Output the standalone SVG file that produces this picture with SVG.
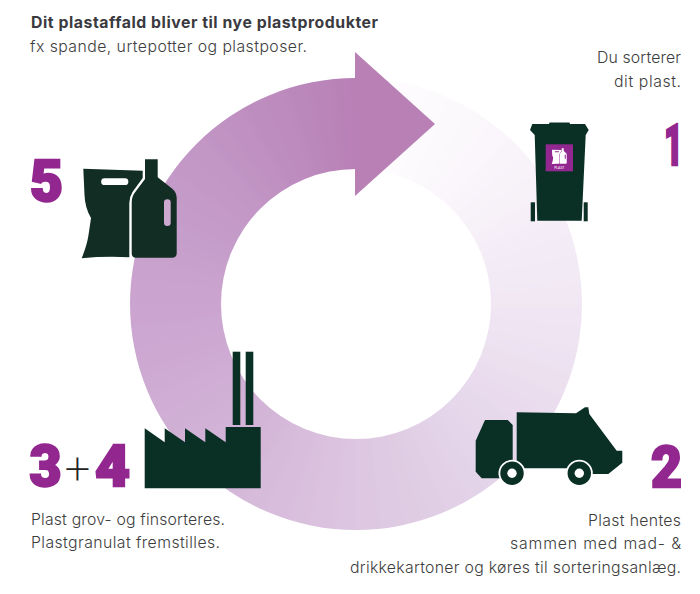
<svg xmlns="http://www.w3.org/2000/svg" width="700" height="594" viewBox="0 0 700 594">
<style>
.t{font-family:"Inter","Lato",sans-serif;font-size:15.8px;font-weight:300;fill:#3d3d3d}
.b{font-weight:700;fill:#3a3a40}
.n{font-family:"Roboto","Liberation Sans",sans-serif;font-weight:900;font-size:58px;fill:#92278f;stroke:#92278f;stroke-width:2.4}
.d{fill:#0a3026}
.p{fill:#122e24}
.s{fill:none;stroke-width:120;stroke-dasharray:6.5 353.5;transform:rotate(-90deg);transform-origin:356px 304px}
</style>
<defs>
<clipPath id="band"><path clip-rule="evenodd" d="M130,304a226,226 0 1 0 452,0a226,226 0 1 0 -452,0ZM221,304a135,135 0 1 0 270,0a135,135 0 1 0 -270,0Z"/></clipPath>
<filter id="soft" filterUnits="userSpaceOnUse" x="60" y="10" width="600" height="600"><feGaussianBlur stdDeviation="3.5"/></filter>
<path id="bag" fill-rule="evenodd" d="M83.3,168.7L142.7,170.7V178L132.5,192Q129.3,197 129.3,203V257.3Q105,256 81.7,258.3Q87,245 88.5,235Q90,225 91,218Q85,208 84.5,195ZM104.5,178.3A3.3,3.3 0 0 0 104.5,185H125A3.3,3.3 0 0 0 125,178.3Z"/>
<path id="bottle" d="M145,159.3H157.7V177.3L172,188.5Q176.7,192.5 176.7,198V253.3Q176.7,257.7 172,257.7H136Q131.7,257.7 131.7,253.3V203Q131.7,197 134.5,193L145,179Z"/>
<rect id="grip" x="164" y="199.3" width="6.7" height="26.7" rx="3.3"/>
</defs>
<rect width="700" height="594" fill="#fff"/>
<g id="ring" clip-path="url(#band)"><g filter="url(#soft)">
<circle class="s" cx="356" cy="304" r="180.5" pathLength="360" stroke="rgb(254,253,254)"/>
<circle class="s" cx="356" cy="304" r="180.5" pathLength="360" stroke="rgb(253,252,254)" stroke-dashoffset="-6"/>
<circle class="s" cx="356" cy="304" r="180.5" pathLength="360" stroke="rgb(253,251,253)" stroke-dashoffset="-12"/>
<circle class="s" cx="356" cy="304" r="180.5" pathLength="360" stroke="rgb(252,250,253)" stroke-dashoffset="-18"/>
<circle class="s" cx="356" cy="304" r="180.5" pathLength="360" stroke="rgb(252,249,252)" stroke-dashoffset="-24"/>
<circle class="s" cx="356" cy="304" r="180.5" pathLength="360" stroke="rgb(251,248,252)" stroke-dashoffset="-30"/>
<circle class="s" cx="356" cy="304" r="180.5" pathLength="360" stroke="rgb(250,246,251)" stroke-dashoffset="-36"/>
<circle class="s" cx="356" cy="304" r="180.5" pathLength="360" stroke="rgb(249,244,250)" stroke-dashoffset="-42"/>
<circle class="s" cx="356" cy="304" r="180.5" pathLength="360" stroke="rgb(248,243,249)" stroke-dashoffset="-48"/>
<circle class="s" cx="356" cy="304" r="180.5" pathLength="360" stroke="rgb(247,241,248)" stroke-dashoffset="-54"/>
<circle class="s" cx="356" cy="304" r="180.5" pathLength="360" stroke="rgb(246,239,248)" stroke-dashoffset="-60"/>
<circle class="s" cx="356" cy="304" r="180.5" pathLength="360" stroke="rgb(244,237,247)" stroke-dashoffset="-66"/>
<circle class="s" cx="356" cy="304" r="180.5" pathLength="360" stroke="rgb(243,235,246)" stroke-dashoffset="-72"/>
<circle class="s" cx="356" cy="304" r="180.5" pathLength="360" stroke="rgb(242,234,245)" stroke-dashoffset="-78"/>
<circle class="s" cx="356" cy="304" r="180.5" pathLength="360" stroke="rgb(241,232,244)" stroke-dashoffset="-84"/>
<circle class="s" cx="356" cy="304" r="180.5" pathLength="360" stroke="rgb(240,230,243)" stroke-dashoffset="-90"/>
<circle class="s" cx="356" cy="304" r="180.5" pathLength="360" stroke="rgb(239,228,242)" stroke-dashoffset="-96"/>
<circle class="s" cx="356" cy="304" r="180.5" pathLength="360" stroke="rgb(237,226,241)" stroke-dashoffset="-102"/>
<circle class="s" cx="356" cy="304" r="180.5" pathLength="360" stroke="rgb(236,224,239)" stroke-dashoffset="-108"/>
<circle class="s" cx="356" cy="304" r="180.5" pathLength="360" stroke="rgb(234,221,238)" stroke-dashoffset="-114"/>
<circle class="s" cx="356" cy="304" r="180.5" pathLength="360" stroke="rgb(233,219,237)" stroke-dashoffset="-120"/>
<circle class="s" cx="356" cy="304" r="180.5" pathLength="360" stroke="rgb(231,217,236)" stroke-dashoffset="-126"/>
<circle class="s" cx="356" cy="304" r="180.5" pathLength="360" stroke="rgb(230,215,235)" stroke-dashoffset="-132"/>
<circle class="s" cx="356" cy="304" r="180.5" pathLength="360" stroke="rgb(228,213,234)" stroke-dashoffset="-138"/>
<circle class="s" cx="356" cy="304" r="180.5" pathLength="360" stroke="rgb(227,211,232)" stroke-dashoffset="-144"/>
<circle class="s" cx="356" cy="304" r="180.5" pathLength="360" stroke="rgb(226,209,230)" stroke-dashoffset="-150"/>
<circle class="s" cx="356" cy="304" r="180.5" pathLength="360" stroke="rgb(224,206,229)" stroke-dashoffset="-156"/>
<circle class="s" cx="356" cy="304" r="180.5" pathLength="360" stroke="rgb(223,204,227)" stroke-dashoffset="-162"/>
<circle class="s" cx="356" cy="304" r="180.5" pathLength="360" stroke="rgb(222,202,226)" stroke-dashoffset="-168"/>
<circle class="s" cx="356" cy="304" r="180.5" pathLength="360" stroke="rgb(221,199,225)" stroke-dashoffset="-174"/>
<circle class="s" cx="356" cy="304" r="180.5" pathLength="360" stroke="rgb(220,197,224)" stroke-dashoffset="-180"/>
<circle class="s" cx="356" cy="304" r="180.5" pathLength="360" stroke="rgb(219,194,222)" stroke-dashoffset="-186"/>
<circle class="s" cx="356" cy="304" r="180.5" pathLength="360" stroke="rgb(217,192,221)" stroke-dashoffset="-192"/>
<circle class="s" cx="356" cy="304" r="180.5" pathLength="360" stroke="rgb(216,189,220)" stroke-dashoffset="-198"/>
<circle class="s" cx="356" cy="304" r="180.5" pathLength="360" stroke="rgb(215,187,218)" stroke-dashoffset="-204"/>
<circle class="s" cx="356" cy="304" r="180.5" pathLength="360" stroke="rgb(213,184,217)" stroke-dashoffset="-210"/>
<circle class="s" cx="356" cy="304" r="180.5" pathLength="360" stroke="rgb(211,181,216)" stroke-dashoffset="-216"/>
<circle class="s" cx="356" cy="304" r="180.5" pathLength="360" stroke="rgb(211,179,215)" stroke-dashoffset="-222"/>
<circle class="s" cx="356" cy="304" r="180.5" pathLength="360" stroke="rgb(209,177,214)" stroke-dashoffset="-228"/>
<circle class="s" cx="356" cy="304" r="180.5" pathLength="360" stroke="rgb(208,175,213)" stroke-dashoffset="-234"/>
<circle class="s" cx="356" cy="304" r="180.5" pathLength="360" stroke="rgb(207,173,212)" stroke-dashoffset="-240"/>
<circle class="s" cx="356" cy="304" r="180.5" pathLength="360" stroke="rgb(206,171,211)" stroke-dashoffset="-246"/>
<circle class="s" cx="356" cy="304" r="180.5" pathLength="360" stroke="rgb(205,169,210)" stroke-dashoffset="-252"/>
<circle class="s" cx="356" cy="304" r="180.5" pathLength="360" stroke="rgb(204,167,209)" stroke-dashoffset="-258"/>
<circle class="s" cx="356" cy="304" r="180.5" pathLength="360" stroke="rgb(203,165,208)" stroke-dashoffset="-264"/>
<circle class="s" cx="356" cy="304" r="180.5" pathLength="360" stroke="rgb(202,164,207)" stroke-dashoffset="-270"/>
<circle class="s" cx="356" cy="304" r="180.5" pathLength="360" stroke="rgb(201,162,205)" stroke-dashoffset="-276"/>
<circle class="s" cx="356" cy="304" r="180.5" pathLength="360" stroke="rgb(200,160,204)" stroke-dashoffset="-282"/>
<circle class="s" cx="356" cy="304" r="180.5" pathLength="360" stroke="rgb(198,158,203)" stroke-dashoffset="-288"/>
<circle class="s" cx="356" cy="304" r="180.5" pathLength="360" stroke="rgb(197,156,201)" stroke-dashoffset="-294"/>
<circle class="s" cx="356" cy="304" r="180.5" pathLength="360" stroke="rgb(196,154,200)" stroke-dashoffset="-300"/>
<circle class="s" cx="356" cy="304" r="180.5" pathLength="360" stroke="rgb(195,152,199)" stroke-dashoffset="-306"/>
<circle class="s" cx="356" cy="304" r="180.5" pathLength="360" stroke="rgb(194,150,197)" stroke-dashoffset="-312"/>
<circle class="s" cx="356" cy="304" r="180.5" pathLength="360" stroke="rgb(192,147,195)" stroke-dashoffset="-318"/>
<circle class="s" cx="356" cy="304" r="180.5" pathLength="360" stroke="rgb(191,144,193)" stroke-dashoffset="-324"/>
<circle class="s" cx="356" cy="304" r="180.5" pathLength="360" stroke="rgb(190,141,191)" stroke-dashoffset="-330"/>
<circle class="s" cx="356" cy="304" r="180.5" pathLength="360" stroke="rgb(189,139,189)" stroke-dashoffset="-336"/>
<circle class="s" cx="356" cy="304" r="180.5" pathLength="360" stroke="rgb(187,136,187)" stroke-dashoffset="-342"/>
<circle class="s" cx="356" cy="304" r="180.5" pathLength="360" stroke="rgb(186,133,185)" stroke-dashoffset="-348"/>
<circle class="s" cx="356" cy="304" r="180.5" pathLength="360" stroke="rgb(185,130,183)" stroke-dashoffset="-354"/>
<circle class="s" cx="356" cy="304" r="180.5" pathLength="360" stroke="rgb(184,128,181)" stroke-dashoffset="-358" style="stroke-dasharray:9 351"/>
</g></g>
<polygon id="arrowhead" points="355,52 435,124 355,196" fill="#b880b5"/>
<g id="bin">
<path class="d" d="M549.5,122.5H569.5L570,124H585L588.7,130L585.7,135L581.7,220.7H537.3L534.7,135L530,130L532.3,124H549Z"/>
<rect class="d" x="530.7" y="202.3" width="4.3" height="19"/>
<rect class="d" x="583.7" y="202.3" width="4" height="19"/>
<rect x="545.7" y="144.3" width="27.3" height="27" fill="#92278f"/>
<g transform="translate(538.8 123.1) scale(.158)"><use href="#bag" fill="#fff"/><use href="#bottle" fill="#fff"/><use href="#grip" fill="#92278f"/></g>
<text x="559.3" y="169" text-anchor="middle" font-family="Lato,sans-serif" font-size="3.5" fill="#fff">PLAST</text>
</g>
<g id="truck">
<path class="d" d="M475.7,440.7L485,420H507.7L512.7,425V465L500,478.3H481.7L475.7,471.7Z"/>
<path class="d" d="M516.7,412.3L576,413.3L585,407.3H588.3L589.3,414L616.7,450.7H622.3V462.7L608.3,474H590V468.3H516.7Z"/>
<circle cx="512" cy="473.3" r="13.5" fill="#fff"/><circle class="d" cx="512" cy="473.3" r="11.7"/><circle cx="512" cy="473.3" r="4.7" fill="#fff"/>
<circle cx="579.3" cy="473.3" r="13.5" fill="#fff"/><circle class="d" cx="579.3" cy="473.3" r="11.7"/><circle cx="579.3" cy="473.3" r="4.7" fill="#fff"/>
</g>
<g id="factory">
<path class="d" d="M144.7,428.3L164.7,442.3V428.3L185,442.3V428.3L205.3,442.3V428.3L225.7,442.3V427H260.7V488.3H144.7Z"/>
<rect class="d" x="232.7" y="351.7" width="7.6" height="73.3"/>
<rect class="d" x="245.7" y="351.7" width="7.6" height="73.3"/>
</g>
<g id="products">
<use href="#bag" class="p"/>
<use href="#bottle" class="p"/>
<use href="#grip" fill="#cda9d0"/>
</g>
<g id="numbers">
<text class="n" x="664" y="165" textLength="19" lengthAdjust="spacingAndGlyphs">1</text>
<text class="n" x="651" y="487" textLength="31" lengthAdjust="spacingAndGlyphs">2</text>
<text class="n" x="29.5" y="486" textLength="32" lengthAdjust="spacingAndGlyphs">3</text>
<text x="77.5" y="485" text-anchor="middle" font-family="Lato,sans-serif" font-size="47" font-weight="300" fill="#222">+</text>
<text class="n" x="95" y="486" textLength="35" lengthAdjust="spacingAndGlyphs">4</text>
<text class="n" x="30" y="201" textLength="33" lengthAdjust="spacingAndGlyphs">5</text>
</g>
<g id="labels">
<text class="t b" x="31" y="27.7" textLength="347">Dit plastaffald bliver til nye plastprodukter</text>
<text class="t" x="30" y="51.7" textLength="277">fx spande, urtepotter og plastposer.</text>
<text class="t" x="597" y="63" textLength="84">Du sorterer</text>
<text class="t" x="614" y="87" textLength="67">dit plast.</text>
<text class="t" x="588" y="525.7" textLength="93">Plast hentes</text>
<text class="t" x="510" y="548.5" textLength="171">sammen med mad- &amp;</text>
<text class="t" x="350" y="573.3" textLength="331">drikkekartoner og køres til sorteringsanlæg.</text>
<text class="t" x="31" y="525" textLength="194">Plast grov- og finsorteres.</text>
<text class="t" x="31" y="547.7" textLength="189">Plastgranulat fremstilles.</text>
</g>
</svg>
